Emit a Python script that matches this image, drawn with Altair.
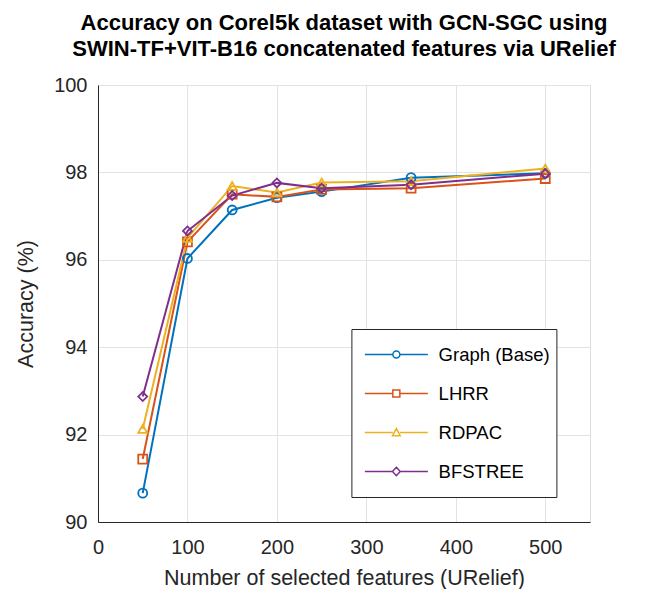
import altair as alt
import pandas as pd

# ---- data ----
features = [50, 100, 150, 200, 250, 350, 500]
series_names = ["Graph (Base)", "LHRR", "RDPAC", "BFSTREE"]
graph_base = [90.66, 96.03, 97.14, 97.42, 97.56, 97.88, 97.98]
lhrr = [91.44, 96.41, 97.50, 97.44, 97.61, 97.64, 97.86]
rdpac = [92.13, 96.50, 97.69, 97.54, 97.77, 97.80, 98.09]
bfstree = [92.87, 96.66, 97.47, 97.76, 97.64, 97.72, 97.97]
x_ticks = [0, 100, 200, 300, 400, 500]
y_ticks = [90, 92, 94, 96, 98, 100]

title_lines = [
    "Accuracy on Corel5k dataset with GCN-SGC using",
    "SWIN-TF+VIT-B16 concatenated features via URelief",
]
x_title = "Number of selected features (URelief)"
y_title = "Accuracy (%)"

# ---- style ----
colors = ["#0072BD", "#D95319", "#EDB120", "#7E2F8E"]
marker_shapes = ["circle", "square", "triangle-up", "diamond"]
legend_paths = [
    "M-9,0H-1M1,0H9M-1,0A1,1 0 1,0 1,0A1,1 0 1,0 -1,0Z",
    "M-9,0H-1M1,0H9M-1,-1H1V1H-1Z",
    "M-9,0H-1M1,0H9M0,-1.1L1.1,0.9H-1.1Z",
    "M-9,0H-1.1M1.1,0H9M0,-1.2L1.1,0L0,1.2L-1.1,0Z",
]
FONT = "Liberation Sans"

rows = []
for name, vals in zip(series_names, [graph_base, lhrr, rdpac, bfstree]):
    for f, v in zip(features, vals):
        rows.append({"features": f, "accuracy": v, "series": name})
df = pd.DataFrame(rows)

x_enc = alt.X(
    "features:Q",
    scale=alt.Scale(domain=[0, 550], nice=False, zero=False),
    axis=alt.Axis(
        values=x_ticks, title=x_title, grid=True, ticks=False,
        labelPadding=15, labelFontSize=20, labelFont=FONT, labelColor="#262626",
        titleFontSize=21.5, titleFont=FONT, titleFontWeight="normal", titleColor="#262626",
        titleY=62, titleBaseline="alphabetic",
        domainColor="#262626", gridColor="#e3e3e3", labelFlush=False,
    ),
)
y_enc = alt.Y(
    "accuracy:Q",
    scale=alt.Scale(domain=[90, 100], nice=False, zero=False),
    axis=alt.Axis(
        values=y_ticks, title=y_title, grid=True, ticks=False,
        labelPadding=11, labelFontSize=20, labelFont=FONT, labelColor="#262626",
        titleFontSize=21.5, titleFont=FONT, titleFontWeight="normal", titleColor="#262626",
        titleX=-66, titleBaseline="alphabetic", titleAngle=-90,
        domainColor="#262626", gridColor="#e3e3e3", labelFlush=False,
    ),
)
color_scale = alt.Scale(domain=series_names, range=colors)

base = alt.Chart(df)

legend_layer = base.mark_point(filled=False, opacity=0).encode(
    x=x_enc, y=y_enc,
    color=alt.Color(
        "series:N", scale=color_scale,
        legend=alt.Legend(
            orient="none", legendX=253.4, legendY=244, title=None,
            strokeColor="#262626", fillColor="white", padding=6,
            clipHeight=39, rowPadding=0, symbolSize=49, symbolStrokeWidth=1.5,
            symbolOffset=29.7, labelOffset=33, symbolOpacity=1,
            labelFont=FONT, labelFontSize=18.5, labelColor="black",
        ),
    ),
    shape=alt.Shape("series:N", scale=alt.Scale(domain=series_names, range=legend_paths)),
)

lines = base.mark_line(strokeWidth=2).encode(
    x=x_enc, y=y_enc,
    color=alt.Color("series:N", scale=color_scale),
    detail="series:N",
)

point_layers = []
for name, shp in zip(series_names, marker_shapes):
    point_layers.append(
        base.transform_filter(alt.datum.series == name)
        .mark_point(shape=shp, filled=False, size=80, strokeWidth=1.8, opacity=1)
        .encode(
            x=x_enc, y=y_enc,
            color=alt.Color("series:N", scale=color_scale),
        )
    )

chart = (
    alt.layer(legend_layer, lines, *point_layers)
    .properties(
        width=492, height=437,
        padding={"left": 90, "top": 77, "right": 40, "bottom": 80},
        autosize=alt.AutoSizeParams(type="none"),
        title=alt.TitleParams(
            text=title_lines, fontSize=22, fontWeight="bold", font=FONT,
            color="black", anchor="middle", lineHeight=26, offset=-3,
            baseline="alphabetic",
        ),
    )
    .configure_view(stroke=None)
    .configure(background="white")
)

chart.save("out.html", embed_options={"renderer": "svg", "actions": False})
